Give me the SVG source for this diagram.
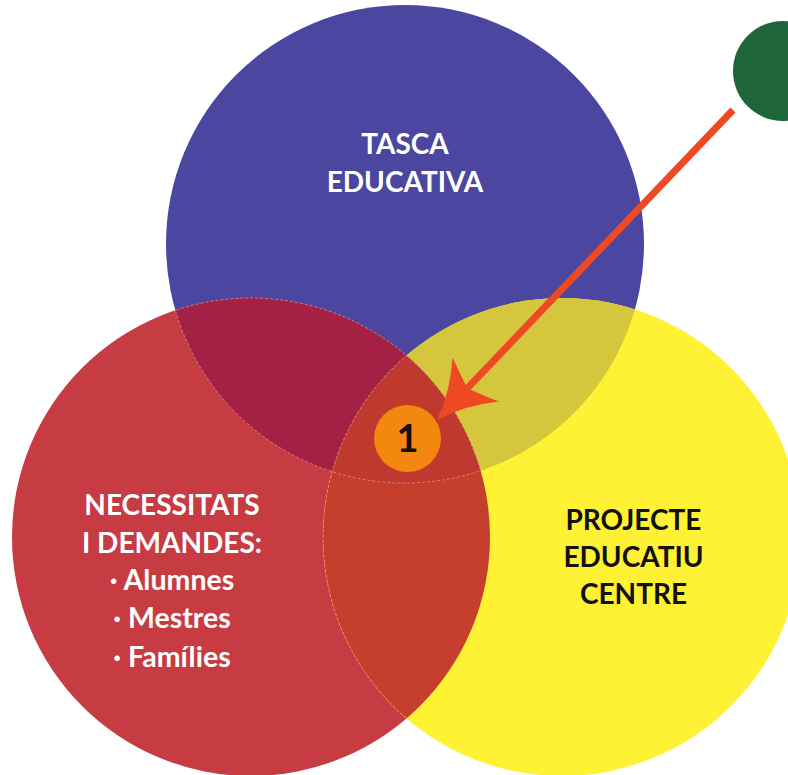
<svg xmlns="http://www.w3.org/2000/svg" width="788" height="775" viewBox="0 0 788 775">
<style>
.lbl{font-family:Lato,"Liberation Sans",sans-serif;font-weight:bold;text-anchor:middle}
.w{fill:#ffffff}
.k{fill:#111111}
.seam{fill:none;stroke:#f2b8b4;stroke-width:1;stroke-dasharray:3 2;opacity:0.55}
</style>
<defs>
<clipPath id="cBlue"><circle cx="405" cy="244" r="239"/></clipPath>
<clipPath id="cRed"><circle cx="251" cy="537" r="239"/></clipPath>
<clipPath id="cYellow"><circle cx="562" cy="537" r="239"/></clipPath>
<marker id="ah" markerUnits="userSpaceOnUse" markerWidth="80" markerHeight="80" refX="0" refY="0" orient="auto" overflow="visible" viewBox="-20 -40 80 80">
<path d="M44,0 Q14,-10 -12,-32 Q-4,-12 0,0 Q-4,12 -12,32 Q14,10 44,0 Z" fill="#ef4923"/>
</marker>
</defs>
<rect width="788" height="775" fill="#ffffff"/>
<g id="green-dot"><circle cx="783" cy="71" r="50" fill="#1e653a"/></g>
<g id="tasca-educativa">
<circle cx="405" cy="244" r="239" fill="#4b47a1"/>
<text class="lbl w" font-size="28" x="405" y="154">TASCA</text>
<text class="lbl w" font-size="28" x="405" y="192">EDUCATIVA</text>
</g>
<g id="necessitats">
<circle cx="251" cy="537" r="239" fill="#c63c42"/>
</g>
<g id="projecte">
<circle cx="562" cy="537" r="239" fill="#fff134"/>
</g>
<g id="overlaps">
<circle cx="251" cy="537" r="239" fill="#a42044" clip-path="url(#cBlue)"/>
<circle cx="562" cy="537" r="239" fill="#d5c63e" clip-path="url(#cBlue)"/>
<circle cx="562" cy="537" r="239" fill="#c63f2c" clip-path="url(#cRed)"/>
<g clip-path="url(#cBlue)"><circle cx="562" cy="537" r="239" fill="#c0392f" clip-path="url(#cRed)"/></g>
<circle class="seam" cx="562" cy="537" r="239" clip-path="url(#cRed)"/>
<circle class="seam" cx="405" cy="244" r="239" clip-path="url(#cRed)"/>
<circle class="seam" cx="251" cy="537" r="239" clip-path="url(#cBlue)"/>
</g>
<g id="necessitats-text">
<text class="lbl w" font-size="28" x="172" y="515">NECESSITATS</text>
<text class="lbl w" font-size="28" x="172" y="553">I DEMANDES:</text>
<text class="lbl w" font-size="28.5" x="172" y="590">· Alumnes</text>
<text class="lbl w" font-size="28.5" x="172" y="628">· Mestres</text>
<text class="lbl w" font-size="28.5" x="172" y="667">· Famílies</text>
</g>
<g id="projecte-text">
<text class="lbl k" font-size="28" x="633.5" y="530">PROJECTE</text>
<text class="lbl k" font-size="28" x="633.5" y="567">EDUCATIU</text>
<text class="lbl k" font-size="28" x="633.5" y="604">CENTRE</text>
</g>
<g id="connectors">
<line x1="733" y1="110" x2="467.4" y2="388.2" stroke="#ef4923" stroke-width="7" marker-end="url(#ah)"/>
</g>
<g id="marker-1">
<circle cx="407.5" cy="438.5" r="33.5" fill="#f3870f"/>
<text class="lbl k" font-size="38" x="407.5" y="451.5">1</text>
</g>
</svg>
